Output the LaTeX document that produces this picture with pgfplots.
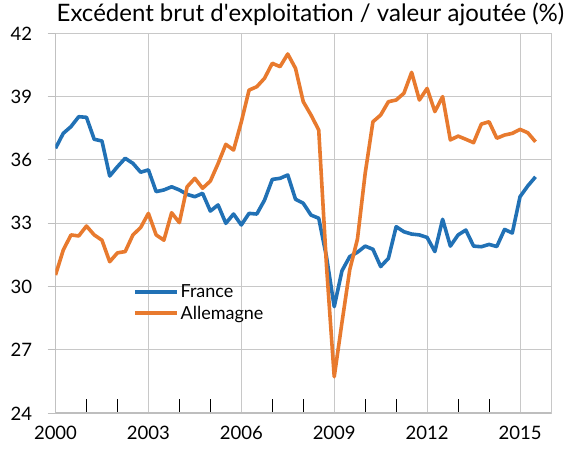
\documentclass[border=0pt]{standalone}
\usepackage{pgfplots}
\pgfplotsset{compat=1.18}
\usepackage{pgfplotstable}
\usepackage{fontspec}
\setmainfont{Lato}
\definecolor{frblue}{RGB}{33,113,181}
\definecolor{deorange}{RGB}{232,122,46}
\definecolor{gridgray}{RGB}{200,200,200}
\definecolor{axisgray}{RGB}{190,190,190}
\pgfplotstableread{
t blue orange
2000.00 36.55 30.55
2000.25 37.26 31.73
2000.50 37.58 32.45
2000.75 38.05 32.40
2001.00 38.02 32.87
2001.25 36.98 32.45
2001.50 36.90 32.20
2001.75 35.24 31.18
2002.00 35.68 31.60
2002.25 36.08 31.66
2002.50 35.84 32.45
2002.75 35.42 32.80
2003.00 35.53 33.47
2003.25 34.50 32.45
2003.50 34.58 32.20
2003.75 34.73 33.50
2004.00 34.58 33.03
2004.25 34.37 34.73
2004.50 34.26 35.13
2004.75 34.42 34.66
2005.00 33.58 35.00
2005.25 33.87 35.83
2005.50 33.00 36.74
2005.75 33.44 36.47
2006.00 32.92 37.80
2006.25 33.47 39.31
2006.50 33.44 39.47
2006.75 34.10 39.87
2007.00 35.08 40.58
2007.25 35.13 40.42
2007.50 35.29 41.02
2007.75 34.14 40.34
2008.00 33.95 38.76
2008.25 33.39 38.13
2008.50 33.24 37.42
2008.75 31.42 31.00
2009.00 29.05 25.73
2009.25 30.75 28.30
2009.50 31.42 30.79
2009.75 31.63 32.25
2010.00 31.92 35.37
2010.25 31.77 37.81
2010.50 30.95 38.13
2010.75 31.34 38.76
2011.00 32.84 38.84
2011.25 32.60 39.16
2011.50 32.49 40.15
2011.75 32.45 38.84
2012.00 32.33 39.39
2012.25 31.66 38.29
2012.50 33.19 39.00
2012.75 31.92 36.95
2013.00 32.45 37.13
2013.25 32.68 36.98
2013.50 31.92 36.82
2013.75 31.89 37.70
2014.00 32.00 37.81
2014.25 31.90 37.03
2014.50 32.71 37.18
2014.75 32.54 37.26
2015.00 34.26 37.45
2015.25 34.77 37.29
2015.50 35.20 36.86
}\datatable
\begin{document}
\begin{tikzpicture}
\path[use as bounding box] (-55.5pt,-37.7pt) rectangle (509.5pt,413.3pt);
\begin{axis}[
  scale only axis,
  width=495.5pt, height=380pt,
  xmin=2000, xmax=2016, ymin=24, ymax=42,
  xtick={2000,2003,...,2015},
  minor xtick={2001,2002,2004,2005,2007,2008,2010,2011,2013,2014},
  ytick={24,27,...,42},
  xticklabel style={/pgf/number format/1000 sep={}, yshift=-9pt},
  yticklabel style={xshift=-12pt},
  /pgf/number format/assume math mode=true,
  tick label style={font=\fontsize{18.5}{20}\selectfont, text=black},
  grid=major,
  major grid style={gridgray, line width=1pt},
  axis line style={gridgray, line width=1pt},
  xtick pos=bottom, ytick pos=left,
  xtick align=inside, ytick align=outside,
  major tick length=8pt, minor tick length=14pt,
  major x tick style={draw=none},
  minor x tick style={black, line width=0.8pt},
  major y tick style={axisgray, line width=1pt},
  title={Excédent brut d\textquotesingle exploitation / valeur ajoutée (\%)},
  title style={at={(0,1)}, anchor=base west, xshift=1pt, yshift=6pt, inner sep=0pt, font=\fontsize{24}{26}\selectfont},
  legend style={at={(0.15,0.35)}, anchor=north west, draw=none, fill=none,
    font=\fontsize{18}{20}\selectfont, row sep=3pt, cells={anchor=west}},
  legend image code/.code={\draw[#1] (0pt,0pt) -- (42pt,0pt);},
  every axis plot/.append style={line width=3.6pt, line join=round},
]
\draw[axisgray, line width=2pt] (rel axis cs:0,1) -- (rel axis cs:0,0) -- (rel axis cs:1,0);
\addplot[frblue] table[x=t, y=blue] {\datatable};
\addlegendentry{France}
\addplot[deorange] table[x=t, y=orange] {\datatable};
\addlegendentry{Allemagne}
\end{axis}
\end{tikzpicture}
\end{document}
